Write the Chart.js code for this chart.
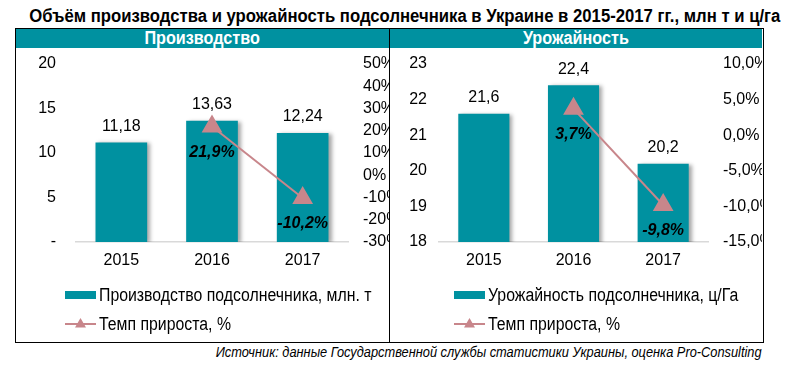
<!DOCTYPE html>
<html><head><meta charset="utf-8">
<script src="https://cdn.jsdelivr.net/npm/chart.js@4.4.1/dist/chart.umd.min.js"></script>
<style>
html,body{margin:0;padding:0;background:#fff;}
body{width:786px;height:370px;position:relative;overflow:hidden;font-family:"Liberation Sans",Arial,sans-serif;}
#title{position:absolute;left:0;top:6px;width:786px;text-align:center;line-height:21px;color:#000;}
#title span{display:inline-block;font-weight:bold;font-size:18px;transform:scaleX(0.928);transform-origin:center;white-space:nowrap;}
#frame{position:absolute;left:15px;top:28px;width:747px;height:313px;border:1px solid #000;}
.hdr{position:absolute;top:29px;height:19px;background:#0091A0;color:#fff;line-height:19px;text-align:center;}
.hdr span{display:inline-block;font-weight:bold;font-size:18px;transform:scaleX(0.9);white-space:nowrap;}
#divider{position:absolute;left:389px;top:28px;width:1px;height:314px;background:#000;}
canvas{position:absolute;}
#src{position:absolute;right:24px;top:343px;line-height:17px;color:#000;}
#src span{display:inline-block;font-style:italic;font-size:14px;transform:scaleX(0.915);transform-origin:right center;white-space:nowrap;}
</style></head>
<body>
<div id="title"><span>Объём производства и урожайность подсолнечника в Украине в 2015-2017 гг., млн т и ц/га</span></div>
<div id="frame"></div>
<div class="hdr" style="left:16px;width:373px;"><span>Производство</span></div>
<div class="hdr" style="left:390px;width:372px;"><span>Урожайность</span></div>
<div id="divider"></div>
<canvas id="c1" width="373" height="294" style="left:16px;top:48px;"></canvas>
<canvas id="c2" width="371" height="294" style="left:391px;top:48px;"></canvas>
<div id="src"><span>Источник: данные Государственной службы статистики Украины, оценка Pro-Consulting</span></div>
<script>
// ---- data ----
const years = ['2015', '2016', '2017'];
const production = [11.18, 13.63, 12.24];
const productionGrowth = [null, 21.9, -10.2];
const yieldValues = [21.6, 22.4, 20.2];
const yieldGrowth = [null, 3.7, -9.8];
const productionLabel = 'Производство подсолнечника, млн. т';
const yieldLabel = 'Урожайность подсолнечника, ц/Га';
const growthLabel = 'Темп прироста, %';
const prodAxis = {min: 0, max: 20, step: 5};
const prodGrowthAxis = {min: -30, max: 50, step: 10};
const yieldAxis = {min: 18, max: 23, step: 1};
const yieldGrowthAxis = {min: -15, max: 10, step: 5};

// ---- styles ----
const TEAL = '#0091A0';
const PINK = '#C8868B';
const SANS = '"Liberation Sans", Arial, sans-serif';
const comma = v => String(v).replace('.', ',');

const valuePlugin = {
  id: 'vals',
  afterDatasetsDraw(chart) {
    const ctx = chart.ctx;
    chart.data.datasets.forEach((ds, i) => {
      const meta = chart.getDatasetMeta(i);
      meta.data.forEach((el, j) => {
        const v = ds.data[j];
        if (v == null) return;
        ctx.save();
        ctx.textAlign = 'center';
        ctx.textBaseline = 'middle';
        ctx.fillStyle = '#000';
        if (ds.type === 'bar') {
          ctx.font = '16px ' + SANS;
          ctx.fillText(comma(v), el.x, el.y - 16);
        } else {
          ctx.font = 'italic bold 16px ' + SANS;
          ctx.fillText(comma(v) + '%', el.x, el.y + 26);
        }
        ctx.restore();
      });
    });
  }
};

const shadowPlugin = {
  id: 'barShadow',
  beforeDatasetDraw(chart, args) {
    if (chart.data.datasets[args.index].type === 'bar') {
      const ctx = chart.ctx;
      ctx.save();
      ctx.shadowColor = 'rgba(0,0,0,0.35)';
      ctx.shadowBlur = 4;
      ctx.shadowOffsetX = 3;
      ctx.shadowOffsetY = 1;
    }
  },
  afterDatasetDraw(chart, args) {
    if (chart.data.datasets[args.index].type === 'bar') chart.ctx.restore();
  }
};

const legendPlugin = {
  id: 'fixedLegend',
  afterDraw(chart, args, opts) {
    const ctx = chart.ctx;
    const ds = chart.data.datasets;
    const rows = [ds.find(d => d.type === 'bar'), ds.find(d => d.type === 'line')];
    rows.forEach((d, r) => {
      const y = opts.y + r * opts.gap;
      const x = opts.x;
      ctx.save();
      if (d.type === 'bar') {
        ctx.fillStyle = d.backgroundColor;
        ctx.fillRect(x, y - 4, 31, 8);
      } else {
        ctx.strokeStyle = d.borderColor;
        ctx.lineWidth = 2;
        ctx.beginPath(); ctx.moveTo(x, y); ctx.lineTo(x + 31, y); ctx.stroke();
        ctx.fillStyle = d.borderColor;
        ctx.beginPath();
        ctx.moveTo(x + 15.5, y - 6); ctx.lineTo(x + 21, y + 3.5); ctx.lineTo(x + 10, y + 3.5);
        ctx.closePath(); ctx.fill();
      }
      ctx.fillStyle = '#000';
      ctx.font = '18px ' + SANS;
      ctx.textBaseline = 'middle';
      ctx.translate(x + 34, y + 1);
      ctx.scale(0.88, 1);
      ctx.fillText(d.label, 0, 0);
      ctx.restore();
    });
  }
};

function makeChart(id, bars, barLabel, growth, a1, a2, fmt1, fmt2, geo) {
  return new Chart(document.getElementById(id), {
    data: {
      labels: years,
      datasets: [
        {type: 'line', label: growthLabel, data: growth, yAxisID: 'y1', order: 0,
         borderColor: PINK, backgroundColor: PINK, borderWidth: 2,
         pointStyle: 'triangle', pointRadius: 10, pointHoverRadius: 10,
         pointBackgroundColor: PINK, pointBorderColor: PINK, spanGaps: false},
        {type: 'bar', label: barLabel, data: bars, yAxisID: 'y', order: 1,
         backgroundColor: TEAL, categoryPercentage: 1, barPercentage: 0.57}
      ]
    },
    options: {
      responsive: false, animation: false, devicePixelRatio: 1,
      layout: {padding: {top: 16, bottom: 70, left: 0, right: 0}},
      plugins: {legend: {display: false}, tooltip: {enabled: false},
        fixedLegend: {x: geo.legX, y: 247, gap: 29}},
      scales: {
        x: {grid: {display: false, drawTicks: false}, border: {display: true, color: '#D9D9D9', width: 1.5},
            ticks: {color: '#000', font: {family: SANS, size: 16}, padding: 9},
            afterFit(s) { s.height = 30; }},
        y: {position: 'left', min: a1.min, max: a1.max,
            grid: {display: false, drawTicks: false}, border: {display: false},
            ticks: {stepSize: a1.step, autoSkip: false, color: '#000', font: {family: SANS, size: 16}, padding: geo.padL, callback: fmt1},
            afterFit(s) { s.width = geo.wL; s.paddingTop = 0; s.paddingBottom = 0; }},
        y1: {position: 'right', min: a2.min, max: a2.max,
            grid: {display: false, drawTicks: false}, border: {display: false},
            ticks: {stepSize: a2.step, autoSkip: false, color: '#000', font: {family: SANS, size: 16}, padding: 15, callback: fmt2},
            afterFit(s) { s.width = geo.wR; s.paddingTop = 0; s.paddingBottom = 0; }}
      }
    },
    plugins: [shadowPlugin, valuePlugin, legendPlugin]
  });
}

makeChart('c1', production, productionLabel, productionGrowth, prodAxis, prodGrowthAxis,
  v => v === 0 ? '-' : String(v), v => v + '%', {wL: 60, wR: 41, padL: 20, legX: 49});
makeChart('c2', yieldValues, yieldLabel, yieldGrowth, yieldAxis, yieldGrowthAxis,
  v => String(v), v => v.toFixed(1).replace('.', ',') + '%', {wL: 48, wR: 54, padL: 12, legX: 63});
</script>
</body></html>
